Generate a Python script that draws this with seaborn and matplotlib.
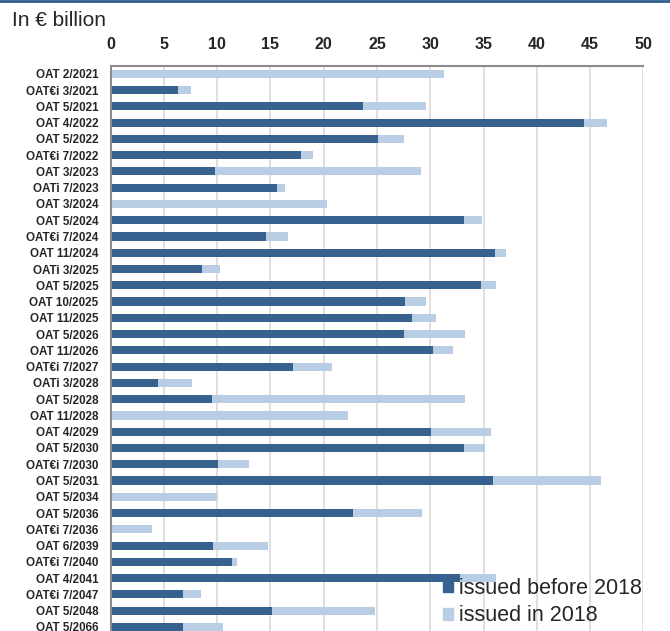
import numpy as np
import pandas as pd
import matplotlib.pyplot as plt
import seaborn as sns
from matplotlib.patches import Patch
from matplotlib.lines import Line2D

bonds = ['OAT 2/2021', 'OAT€i 3/2021', 'OAT 5/2021', 'OAT 4/2022', 'OAT 5/2022',
         'OAT€i 7/2022', 'OAT 3/2023', 'OATi 7/2023', 'OAT 3/2024', 'OAT 5/2024',
         'OAT€i 7/2024', 'OAT 11/2024', 'OATi 3/2025', 'OAT 5/2025', 'OAT 10/2025',
         'OAT 11/2025', 'OAT 5/2026', 'OAT 11/2026', 'OAT€i 7/2027', 'OATi 3/2028',
         'OAT 5/2028', 'OAT 11/2028', 'OAT 4/2029', 'OAT 5/2030', 'OAT€i 7/2030',
         'OAT 5/2031', 'OAT 5/2034', 'OAT 5/2036', 'OAT€i 7/2036', 'OAT 6/2039',
         'OAT€i 7/2040', 'OAT 4/2041', 'OAT€i 7/2047', 'OAT 5/2048', 'OAT 5/2066']

issued_before_2018 = [0, 6.35, 23.65, 44.4, 25.1,
                      17.9, 9.8, 15.65, 0, 33.2,
                      14.6, 36.1, 8.55, 34.75, 27.65,
                      28.3, 27.55, 30.25, 17.1, 4.4,
                      9.55, 0, 30.05, 33.2, 10.1,
                      35.9, 0, 22.7, 0, 9.65,
                      11.4, 32.8, 6.75, 15.1, 6.75]

issued_in_2018 = [31.3, 1.15, 5.95, 2.15, 2.4,
                  1.1, 19.3, 0.75, 20.3, 1.7,
                  2.0, 1.0, 1.7, 1.45, 1.95,
                  2.2, 5.75, 1.85, 3.7, 3.25,
                  23.75, 22.3, 5.65, 1.9, 2.85,
                  10.15, 10.0, 6.55, 3.85, 5.1,
                  0.5, 3.4, 1.7, 9.7, 3.8]

df = pd.DataFrame({'bond': bonds, 'before': issued_before_2018, 'in2018': issued_in_2018})
df['total'] = df['before'] + df['in2018']

dark = '#37618F'
light = '#B9CDE5'
gray = '#8C8C8C'

sns.set_style('white')
plt.rcParams['font.family'] = ['Liberation Sans', 'DejaVu Sans']

fig = plt.figure(figsize=(6.7, 6.31), dpi=100)
ax = fig.add_axes([0.1652, -0.0065, 0.795, 0.9025])

sns.barplot(data=df, x='total', y='bond', orient='h', color=light, width=0.5,
            saturation=1, ax=ax, linewidth=0)
sns.barplot(data=df, x='before', y='bond', orient='h', color=dark, width=0.5,
            saturation=1, ax=ax, linewidth=0)

n = len(bonds)
ax.set_xlim(0, 50)
ax.set_ylim(n - 0.5, -0.5)
ax.set_xticks(np.arange(0, 51, 5))
ax.xaxis.tick_top()
ax.set_xlabel('')
ax.set_ylabel('')
ax.xaxis.grid(True, color='#D9D9D9', lw=1.2)
ax.set_axisbelow(True)

ax.tick_params(axis='x', length=0, labelsize=11.5, pad=10)
ax.tick_params(axis='y', which='major', length=0, labelsize=8.4, pad=9)
ax.set_yticks(np.arange(-0.5, n, 1), minor=True)
ax.tick_params(axis='y', which='minor', length=4, width=1.2, color=gray)
for lbl in ax.get_xticklabels() + ax.get_yticklabels():
    lbl.set_fontweight('bold')

for s in ['right', 'bottom']:
    ax.spines[s].set_visible(False)
for s in ['left', 'top']:
    ax.spines[s].set_color(gray)
    ax.spines[s].set_linewidth(1.5)

fig.text(12 / 670, 1 - 20 / 631, 'In € billion', fontsize=15, va='center', ha='left')

handles = [Patch(color=dark, label='issued before 2018'),
           Patch(color=light, label='issued in 2018')]
fig.legend(handles=handles, loc='center left', bbox_to_anchor=(443 / 670, 1 - 602 / 631),
           frameon=False, fontsize=15.5, handlelength=0.48, handleheight=0.5,
           handletextpad=0.25, labelspacing=0.32, borderpad=0, borderaxespad=0)

fig.add_artist(Line2D([0, 1], [0.9985, 0.9985], transform=fig.transFigure,
                      color='#2E5E8E', lw=2))

fig.savefig('out.png', dpi=100)
